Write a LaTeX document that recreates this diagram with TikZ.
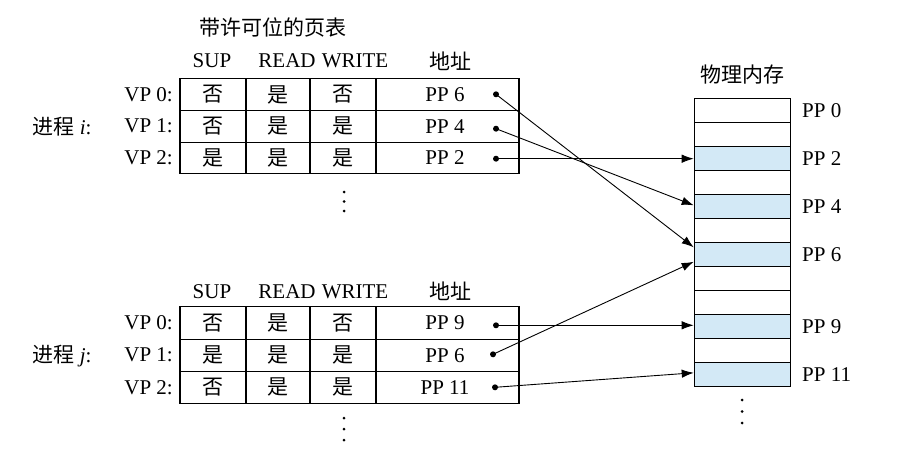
\documentclass[tikz,border=0pt]{standalone}
\usepackage{fontspec}
\setmainfont{Liberation Serif}
\newfontfamily\cjk{Noto Sans CJK SC}
\usetikzlibrary{arrows.meta,calc}
\definecolor{pgblue}{HTML}{D3E9F6}
\begin{document}
\begin{tikzpicture}[x=1pt,y=-1pt,
  every node/.style={font=\fontsize{21}{25}\selectfont, inner sep=0pt},
  cell/.style={draw, line width=1.1pt, inner sep=0pt},
  trow/.style={cell, minimum height=31.7pt},
  brow/.style={cell, minimum height=32.2pt},
  ca/.style={minimum width=66pt},
  cb/.style={minimum width=64pt},
  cc/.style={minimum width=66pt},
  cd/.style={minimum width=143pt},
  mem/.style={draw, line width=1.1pt, minimum width=96.5pt, minimum height=24pt, inner sep=0pt},
  used/.style={mem, fill=pgblue},
  dotn/.style={circle, fill, minimum size=6pt, inner sep=0pt},
  arr/.style={line width=0.9pt, -{Latex[length=12pt,width=8.5pt]}}]
\useasboundingbox (0,0) rectangle (904,453);

% ---------- top table ----------
\node (ttitle) at (273,27) {\cjk 带许可位的页表};
\node (tsup) at (212,61) {SUP};
\node (tread) at (287,61) {READ};
\node (twrite) at (355,61) {WRITE};
\node (taddr) at (450,61) {\cjk 地址};

\node[trow,ca] (t00) at (213,94.5) {\cjk 否};
\node[trow,cb] (t01) at (278,94.5) {\cjk 是};
\node[trow,cc] (t02) at (343,94.5) {\cjk 否};
\node[trow,cd] (t03) at (447.5,94.5) {};
\node[trow,ca] (t10) at (213,126.2) {\cjk 否};
\node[trow,cb] (t11) at (278,126.2) {\cjk 是};
\node[trow,cc] (t12) at (343,126.2) {\cjk 是};
\node[trow,cd] (t13) at (447.5,126.2) {};
\node[trow,ca] (t20) at (213,157.9) {\cjk 是};
\node[trow,cb] (t21) at (278,157.9) {\cjk 是};
\node[trow,cc] (t22) at (343,157.9) {\cjk 是};
\node[trow,cd] (t23) at (447.5,157.9) {};

\node (tp0) at (445,94.5) {PP 6};
\node (tp1) at (445,126.2) {PP 4};
\node (tp2) at (445,157.9) {PP 2};

\node[anchor=east] (tv0) at (173,94.5) {VP 0:};
\node[anchor=east] (tv1) at (173,126.2) {VP 1:};
\node[anchor=east] (tv2) at (173,157.9) {VP 2:};
\node (tproc) at (62,127) {{\cjk 进程} \textit{i}:};

\node[dotn] (td0) at (496,94.3) {};
\node[dotn] (td1) at (496,128.7) {};
\node[dotn] (td2) at (496,158.7) {};

\fill (344,192) circle[radius=1.5pt] (344,201.5) circle[radius=1.5pt] (344,211) circle[radius=1.5pt];

% ---------- bottom table ----------
\node (bsup) at (212,291.7) {SUP};
\node (bread) at (287,291.7) {READ};
\node (bwrite) at (355,291.7) {WRITE};
\node (baddr) at (450,291.7) {\cjk 地址};

\node[brow,ca] (b00) at (213,323) {\cjk 否};
\node[brow,cb] (b01) at (278,323) {\cjk 是};
\node[brow,cc] (b02) at (343,323) {\cjk 否};
\node[brow,cd] (b03) at (447.5,323) {};
\node[brow,ca] (b10) at (213,355.2) {\cjk 是};
\node[brow,cb] (b11) at (278,355.2) {\cjk 是};
\node[brow,cc] (b12) at (343,355.2) {\cjk 是};
\node[brow,cd] (b13) at (447.5,355.2) {};
\node[brow,ca] (b20) at (213,387.4) {\cjk 否};
\node[brow,cb] (b21) at (278,387.4) {\cjk 是};
\node[brow,cc] (b22) at (343,387.4) {\cjk 是};
\node[brow,cd] (b23) at (447.5,387.4) {};

\node (bp0) at (445,323) {PP 9};
\node (bp1) at (445,355.2) {PP 6};
\node (bp2) at (445,387.4) {PP 11};

\node[anchor=east] (bv0) at (173,323) {VP 0:};
\node[anchor=east] (bv1) at (173,355.2) {VP 1:};
\node[anchor=east] (bv2) at (173,387.4) {VP 2:};
\node (bproc) at (62,356.5) {{\cjk 进程} \textit{j}:};

\node[dotn] (bd0) at (496,325.3) {};
\node[dotn] (bd1) at (493,354.3) {};
\node[dotn] (bd2) at (495,387.3) {};

\fill (344,418) circle[radius=1.5pt] (344,429) circle[radius=1.5pt] (344,440) circle[radius=1.5pt];

% ---------- physical memory ----------
\node (mtitle) at (742,75) {\cjk 物理内存};
\node[mem]  (m0)  at (742.5,110.3) {};
\node[mem]  (m1)  at (742.5,134.3) {};
\node[used] (m2)  at (742.5,158.3) {};
\node[mem]  (m3)  at (742.5,182.3) {};
\node[used] (m4)  at (742.5,206.3) {};
\node[mem]  (m5)  at (742.5,230.3) {};
\node[used] (m6)  at (742.5,254.3) {};
\node[mem]  (m7)  at (742.5,278.3) {};
\node[mem]  (m8)  at (742.5,302.3) {};
\node[used] (m9)  at (742.5,326.3) {};
\node[mem]  (m10) at (742.5,350.3) {};
\node[used] (m11) at (742.5,374.3) {};

\node[anchor=west] (ml0)  at (802,110.3) {PP 0};
\node[anchor=west] (ml2)  at (802,158.3) {PP 2};
\node[anchor=west] (ml4)  at (802,206.3) {PP 4};
\node[anchor=west] (ml6)  at (802,254.3) {PP 6};
\node[anchor=west] (ml9)  at (802,326.3) {PP 9};
\node[anchor=west] (ml11) at (802,374.3) {PP 11};

\fill (742,400) circle[radius=1.5pt] (742,411.5) circle[radius=1.5pt] (742,423) circle[radius=1.5pt];

% ---------- arrows ----------
\draw[arr] (td0.center) -- ($(m6.west)+(0,-7)$);
\draw[arr] (td1.center) -- ($(m4.west)+(0,-1)$);
\draw[arr] (td2.center) -- (td2.center -| m2.west);
\draw[arr] (bd0.center) -- (bd0.center -| m9.west);
\draw[arr] (bd1.center) -- ($(m6.west)+(0,7.5)$);
\draw[arr] (bd2.center) -- ($(m11.west)+(0,-1.5)$);
\end{tikzpicture}
\end{document}
